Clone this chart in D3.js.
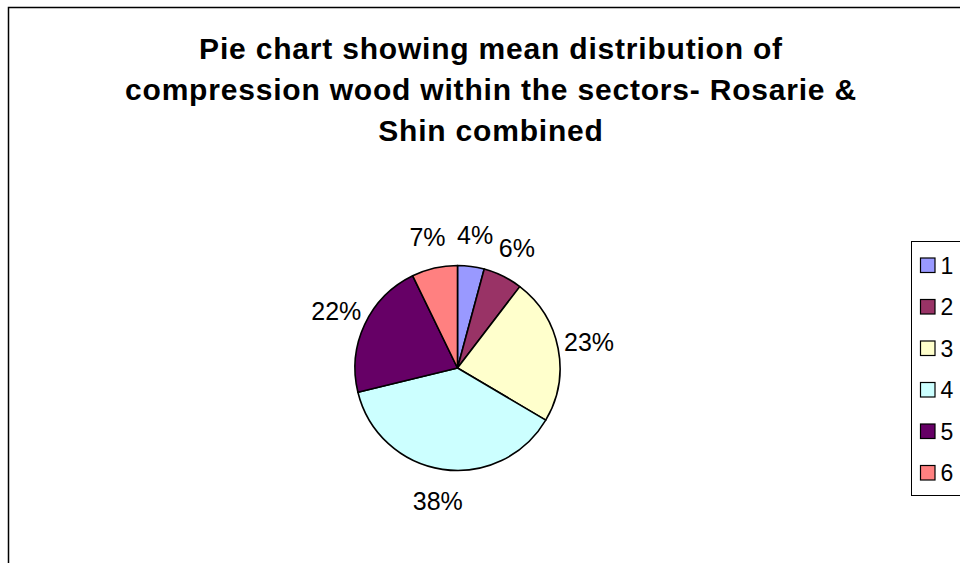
<!DOCTYPE html>
<html>
<head>
<meta charset="utf-8">
<script src="https://cdn.jsdelivr.net/npm/d3@7"></script>
<style>
html,body{margin:0;padding:0;background:#fff;}
svg{display:block;font-family:"Liberation Sans",Arial,sans-serif;}
</style>
</head>
<body>
<svg id="chart" width="960" height="563"></svg>
<script>
const titleLines = ["Pie chart showing mean distribution of", "compression wood within the sectors- Rosarie &", "Shin combined"];
const categories = ["1", "2", "3", "4", "5", "6"];
const values = [4.2, 6.2, 23.1, 37.7, 21.6, 7.2];
const colors = ["#9999FF", "#993366", "#FFFFCC", "#CCFFFF", "#660066", "#FF8080"];

const svg = d3.select("#chart");
const W = 960, H = 563;

svg.append("rect").attr("x", 0).attr("y", 0).attr("width", W).attr("height", H).attr("fill", "#fff");
// chart area border
svg.append("rect").attr("x", 8.5).attr("y", 7.5).attr("width", 1000).attr("height", 700)
  .attr("fill", "none").attr("stroke", "#000").attr("stroke-width", 1.5);

// title
const title = svg.append("text").attr("text-anchor", "middle")
  .attr("font-size", 30).attr("font-weight", "bold").attr("letter-spacing", 0.8).attr("fill", "#000");
titleLines.forEach((t, i) => {
  title.append("tspan").attr("x", 491).attr("y", 58.5 + i * 41).text(t);
});

// pie
const cx = 457.5, cy = 368, R = 102.5, labelR = 134;
const total = d3.sum(values);
const pie = d3.pie().sort(null).value(d => d)(values);
const arc = d3.arc().innerRadius(0).outerRadius(R);
const labelArc = d3.arc().innerRadius(labelR).outerRadius(labelR);
const color = d3.scaleOrdinal().domain(categories).range(colors);

const g = svg.append("g").attr("transform", `translate(${cx},${cy})`);
g.selectAll("path.slice").data(pie).join("path").attr("class", "slice")
  .attr("d", arc)
  .attr("fill", (d, i) => color(categories[i]))
  .attr("stroke", "#000").attr("stroke-width", 1.6).attr("stroke-linejoin", "round");

const fmt = v => Math.round(v / total * 100) + "%";
g.selectAll("text.lbl").data(pie).join("text").attr("class", "lbl")
  .attr("transform", d => `translate(${labelArc.centroid(d)})`)
  .attr("text-anchor", "middle").attr("dominant-baseline", "central")
  .attr("font-size", 25).attr("fill", "#000")
  .text(d => fmt(d.value));

// legend
const lg = svg.append("g");
lg.append("rect").attr("x", 911.5).attr("y", 241.5).attr("width", 100).attr("height", 254)
  .attr("fill", "#fff").attr("stroke", "#000").attr("stroke-width", 1);
const rowY = d3.scalePoint().domain(categories).range([265.5, 473]);
const items = lg.selectAll("g.item").data(categories).join("g").attr("class", "item")
  .attr("transform", d => `translate(0,${rowY(d)})`);
items.append("rect").attr("x", 920.5).attr("y", -7.5).attr("width", 14.5).attr("height", 14.5)
  .attr("fill", d => color(d)).attr("stroke", "#000").attr("stroke-width", 1.2);
items.append("text").attr("x", 940.5).attr("y", 0).attr("dominant-baseline", "central")
  .attr("font-size", 23).attr("fill", "#000").text(d => d);
</script>
</body>
</html>
